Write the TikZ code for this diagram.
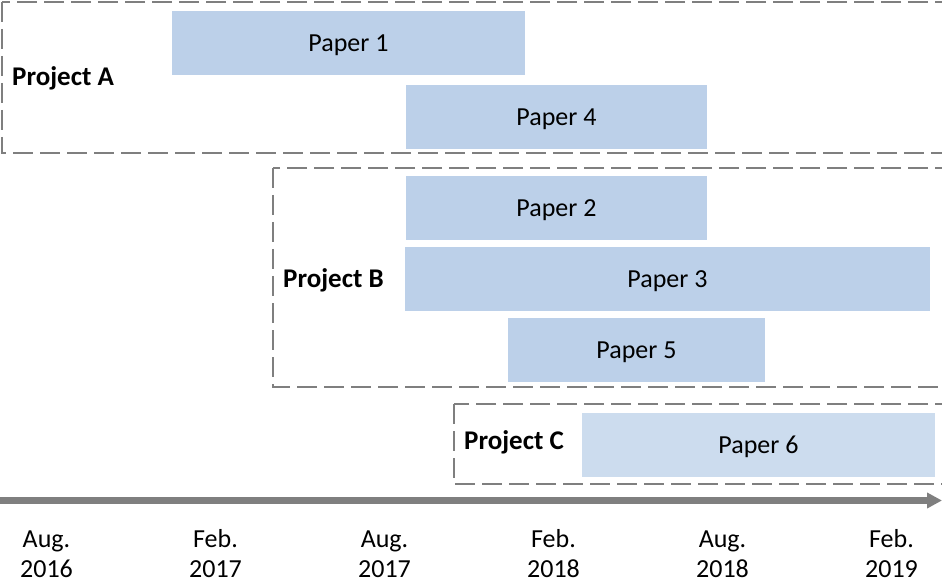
\documentclass[tikz,border=0pt]{standalone}
\usepackage{fontspec}
\setmainfont{Carlito}
\usetikzlibrary{arrows.meta}
\definecolor{barblue}{HTML}{BCD0E9}
\definecolor{barlight}{HTML}{CCDCEE}
\definecolor{framegray}{HTML}{7F7F7F}
\begin{document}
\begin{tikzpicture}[x=1pt,y=-1pt,
  every node/.style={font=\fontsize{26}{30}\selectfont, inner sep=0pt,
                     text height=16.7pt, text depth=0pt},
  paper/.style={fill=barblue, minimum height=64pt},
  paperlight/.style={fill=barlight, minimum height=64pt},
  project/.style={font=\fontsize{27}{31}\selectfont\bfseries, anchor=west,
                  text height=17.3pt},
  frame/.style={draw=framegray, line width=2.8pt, dash pattern=on 20pt off 7pt},
  datelabel/.style={anchor=base}
]
\useasboundingbox (0,0) rectangle (942,585);

% project frames, running off the right edge
\begin{scope}
  \clip (0,0) rectangle (942,585);
  \draw[frame] (2,2) rectangle (962,153);
  \draw[frame] (273,168) rectangle (962,387);
  \draw[frame] (454,404) rectangle (962,484);
\end{scope}

% project labels
\node[project] (pa) at (12,77) {Project A};
\node[project] (pb) at (283,278.7) {Project B};
\node[project] (pc) at (464,441) {Project C};

% paper bars
\node[paper, minimum width=353pt] (p1) at (348.5,43) {Paper 1};
\node[paper, minimum width=301pt] (p4) at (556.5,117) {Paper 4};
\node[paper, minimum width=301pt] (p2) at (556.5,208) {Paper 2};
\node[paper, minimum width=525pt] (p3) at (667.5,279) {Paper 3};
\node[paper, minimum width=257pt] (p5) at (636.5,350) {Paper 5};
\node[paperlight, minimum width=353pt] (p6) at (758.5,445) {Paper 6};

% time axis
\coordinate (t0) at (0,500.5);
\coordinate (t1) at (942,500.5);
\draw[framegray, line width=7pt, -{Triangle[length=15pt,width=15pt]}] (t0) -- (t1);

% date labels
\node[datelabel] (m1) at (46.5,547) {Aug.};
\node[datelabel] (y1) at (46.5,577) {2016};
\node[datelabel] (m2) at (215.5,547) {Feb.};
\node[datelabel] (y2) at (215.5,577) {2017};
\node[datelabel] (m3) at (384.5,547) {Aug.};
\node[datelabel] (y3) at (384.5,577) {2017};
\node[datelabel] (m4) at (553.5,547) {Feb.};
\node[datelabel] (y4) at (553.5,577) {2018};
\node[datelabel] (m5) at (722.5,547) {Aug.};
\node[datelabel] (y5) at (722.5,577) {2018};
\node[datelabel] (m6) at (891.5,547) {Feb.};
\node[datelabel] (y6) at (891.5,577) {2019};
\end{tikzpicture}
\end{document}
